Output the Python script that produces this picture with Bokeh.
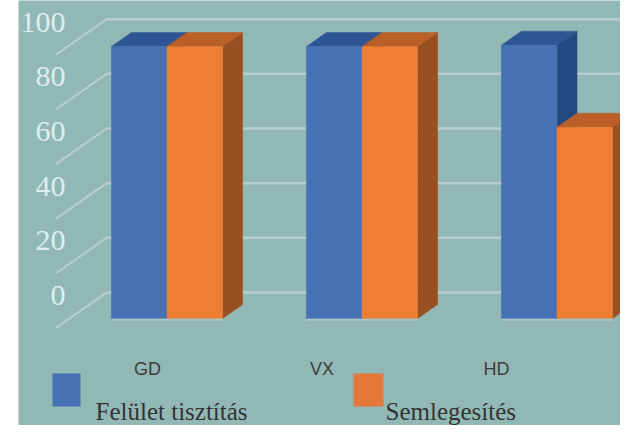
import numpy as np
from bokeh.plotting import figure
from bokeh.models import Range1d, Spacer
from bokeh.layouts import row
from bokeh.core.properties import value
from bokeh.embed import file_html
from bokeh.resources import INLINE

# ---------------- data ----------------
categories = ["GD", "VX", "HD"]
series_names = ["Felület tisztítás", "Semlegesítés"]
felulet_tisztitas = [99.5, 99.5, 100.0]
semlegesites = [99.5, 99.5, 70.0]
y_ticks = [0, 20, 40, 60, 80, 100]
y_tick_labels = ["0", "20", "40", "60", "80", "100"]

# ---------------- layout constants (reference pixels) ----------------
LEFT_PAD = 18
FIG_W, FIG_H = 602, 425
PAGE_X0, PAGE_Y0 = LEFT_PAD, 0
CAT0_PX = 166.5      # x of first category centre
CAT_PX = 195.0       # px per category
ZERO_PX = 318.0      # y of value 0 on bar front plane
UNIT_PX = 2.733      # px per value unit
DEPTH_DX_PX, DEPTH_DY_PX = 20.0, 14.0   # oblique offset of one bar depth
BAR_W = 0.285
WALL_DEPTH = 26.0 / 14.0
FLOOR_FRONT = -0.67
WALL_X = -0.5
GRID_END_X = 2.6

BG = "#92b8b6"
GRID = "#b6cfce"
BLUE = ("#4671b5", "#2f5595", "#214a80")    # front, top, side
ORANGE = ("#ee7f32", "#b95f27", "#985021")

def px_x(X):
    return (X - CAT0_PX) / CAT_PX

def px_y(Y):
    return (ZERO_PX - Y) / UNIT_PX

DX = DEPTH_DX_PX / CAT_PX
DY = DEPTH_DY_PX / UNIT_PX

def proj(x, v, d):
    return x + d * DX, v + d * DY

p = figure(width=FIG_W, height=FIG_H, output_backend="svg", toolbar_location=None,
           x_range=Range1d(px_x(PAGE_X0), px_x(PAGE_X0 + FIG_W)),
           y_range=Range1d(px_y(PAGE_Y0 + FIG_H), px_y(PAGE_Y0)),
           x_axis_location=None, y_axis_location=None, min_border=0)
p.background_fill_color = BG
p.border_fill_color = BG
p.outline_line_color = None
p.xgrid.visible = False
p.ygrid.visible = False

# ---- back wall gridlines and side wall diagonals ----
gx, gy, sx, sy = [], [], [], []
for v in y_ticks:
    x0, y0 = proj(WALL_X, v, WALL_DEPTH)
    x1, y1 = proj(GRID_END_X, v, WALL_DEPTH)
    gx.append([x0, x1]); gy.append([y0, y1])
    x2, y2 = proj(WALL_X, v, FLOOR_FRONT)
    sx.append([x2, x0]); sy.append([y2, y0])
p.multi_line(gx, gy, line_color=GRID, line_width=2.5)
p.multi_line(sx, sy, line_color=GRID, line_width=2.0)

# ---- tick labels ----
tick_x = [px_x(65)] * len(y_ticks)
tick_y = [proj(WALL_X, v, WALL_DEPTH)[1] - 3.0 / UNIT_PX for v in y_ticks]
p.text(tick_x, tick_y, text=y_tick_labels, text_align="right", text_baseline="middle",
       text_font=value("Liberation Serif"), text_font_size="30px", text_color="#dcefef")

# ---- 3D bars ----
side_xs, side_ys, side_c = [], [], []
top_xs, top_ys, top_c = [], [], []
fl, fr, ft, fc = [], [], [], []
for i, cat in enumerate(categories):
    for s, (vals, cols) in enumerate([(felulet_tisztitas, BLUE), (semlegesites, ORANGE)]):
        v = vals[i]
        x0 = i - BAR_W + s * BAR_W
        x1 = x0 + BAR_W
        pts = [proj(x1, 0, 0), proj(x1, v, 0), proj(x1, v, 1), proj(x1, 0, 1)]
        side_xs.append([q[0] for q in pts]); side_ys.append([q[1] for q in pts]); side_c.append(cols[2])
        pts = [proj(x0, v, 0), proj(x1, v, 0), proj(x1, v, 1), proj(x0, v, 1)]
        top_xs.append([q[0] for q in pts]); top_ys.append([q[1] for q in pts]); top_c.append(cols[1])
        fl.append(x0); fr.append(x1); ft.append(v); fc.append(cols[0])

p.patches(side_xs, side_ys, fill_color=side_c, line_color=side_c, line_width=0.5)
p.patches(top_xs, top_ys, fill_color=top_c, line_color=top_c, line_width=0.5)
p.quad(left=fl, right=fr, top=ft, bottom=[0] * len(fl), fill_color=fc, line_color=fc, line_width=0.5)
# light bottom edge under fronts
p.segment(x0=[i - BAR_W for i in range(len(categories))], x1=[i + BAR_W for i in range(len(categories))],
          y0=[-0.5] * len(categories), y1=[-0.5] * len(categories), line_color="#aac6c4", line_width=2)

# ---- category labels ----
CAT_LABEL_SCALE, CAT_LABEL_OFFSET = 0.895, -0.1
p.text([i * CAT_LABEL_SCALE + CAT_LABEL_OFFSET for i in range(len(categories))],
       [px_y(368)] * len(categories), text=categories, text_align="center", text_baseline="middle",
       text_font=value("Liberation Sans"), text_font_size="18px", text_color="#3c3c3c")

# ---- legend ----
p.quad(left=[px_x(52), px_x(353)], right=[px_x(80), px_x(383)],
       top=[px_y(373)] * 2, bottom=[px_y(406)] * 2,
       fill_color=[BLUE[0], "#e3783a"], line_color=None)
p.text([px_x(95), px_x(385)], [px_y(411)] * 2, text=series_names, text_align="left",
       text_baseline="alphabetic", text_font=value("Liberation Serif"), text_font_size="25px",
       text_color="#333333")

layout = row(Spacer(width=LEFT_PAD, height=FIG_H), p)
open("out.html", "w").write(file_html(layout, INLINE))
